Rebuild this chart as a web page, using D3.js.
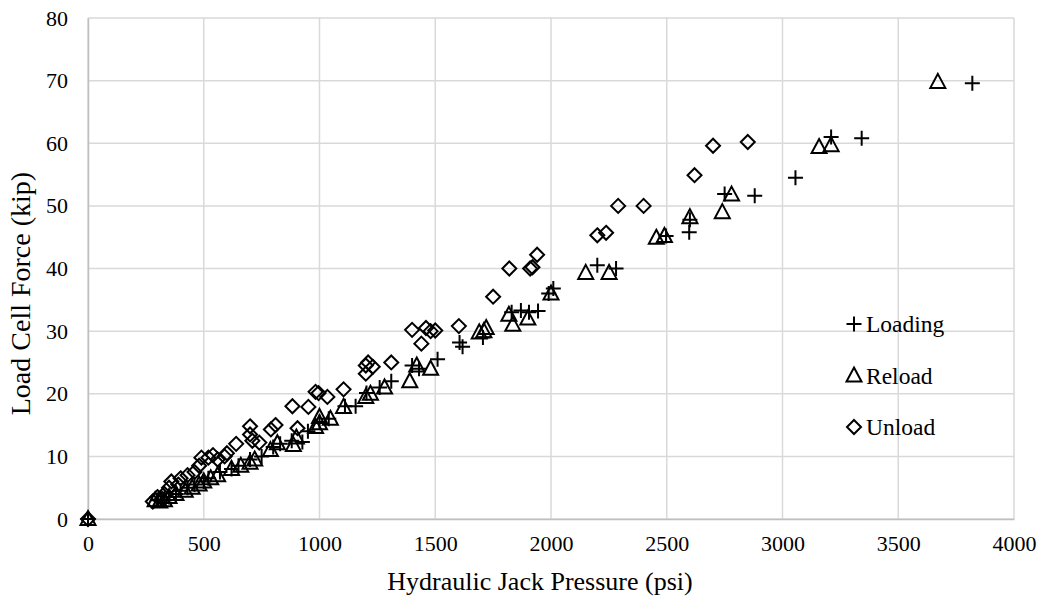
<!DOCTYPE html>
<html>
<head>
<meta charset="utf-8">
<script src="https://cdn.jsdelivr.net/npm/d3@7"></script>
<style>
  html, body { margin: 0; padding: 0; background: #fff; }
  svg text { font-family: "Liberation Serif", "Times New Roman", serif !important; }
</style>
</head>
<body>
<svg id="chart" width="1041" height="601"></svg>
<script>
// Hydraulic jack pressure (psi) vs load cell force (kip)
const xTicks = [0, 500, 1000, 1500, 2000, 2500, 3000, 3500, 4000];
const yTicks = [0, 10, 20, 30, 40, 50, 60, 70, 80];

const loadingX = [0, 300, 330, 350, 380, 400, 430, 460, 500, 520, 570, 620, 650, 700, 750, 800, 830, 880, 926, 950, 1000, 1040, 1110, 1156, 1203, 1260, 1310, 1400, 1430, 1510, 1605, 1618, 1706, 1830, 1870, 1905, 1944, 1990, 2010, 2200, 2281, 2497, 2597, 2600, 2750, 2880, 3056, 3210, 3342, 3820];
const loadingY = [0, 3, 3, 3.5, 4, 4.5, 5, 5.5, 6, 6.5, 7.5, 8, 8.5, 9.5, 10, 11.5, 12, 12.5, 12.3, 14, 15.5, 16, 18, 18, 20.1, 21, 22, 24.5, 24, 25.5, 28.2, 27.5, 29, 33, 33.3, 33, 33.2, 36, 36.8, 40.5, 40, 45.2, 45.8, 47.8, 51.9, 51.6, 54.5, 61, 60.8, 69.6];

const reloadX = [0, 290, 310, 330, 350, 380, 420, 450, 480, 500, 530, 560, 620, 660, 700, 720, 788, 818, 887, 900, 983, 1000, 1000, 1047, 1104, 1200, 1220, 1281, 1390, 1420, 1480, 1690, 1710, 1720, 1818, 1835, 1900, 2000, 2150, 2251, 2455, 2490, 2600, 2740, 2780, 3158, 3210, 3671];
const reloadY = [0, 3, 2.8, 3, 3.5, 4, 4.5, 5, 5.5, 6, 6.5, 7, 8, 8.5, 9, 9.5, 11, 12.1, 11.8, 13, 14.7, 15.3, 16.3, 16, 17.9, 19.5, 20, 21, 22, 24.5, 24, 29.8, 30, 30.5, 32.6, 31, 32, 36, 39.3, 39.3, 44.9, 45.2, 48.2, 49, 51.8, 59.4, 59.7, 69.8];

const unloadX = [0, 280, 300, 320, 330, 350, 360, 390, 400, 430, 460, 480, 490, 520, 540, 560, 590, 600, 640, 700, 700, 710, 740, 790, 810, 883, 905, 952, 983, 996, 1034, 1104, 1200, 1200, 1210, 1230, 1310, 1400, 1440, 1460, 1480, 1500, 1602, 1750, 1820, 1910, 1920, 1940, 2200, 2238, 2290, 2400, 2620, 2700, 2850];
const unloadY = [0, 2.8, 3.5, 3.2, 4, 5, 6, 5.5, 6.5, 7, 7.5, 8.5, 9.8, 9.8, 10.2, 9.5, 10, 10.5, 12, 14.8, 13.5, 12.5, 12.2, 14.3, 15, 18, 14.5, 17.9, 20.3, 20.1, 19.5, 20.7, 24.5, 23.2, 25, 24.3, 25, 30.2, 28, 30.5, 30, 30.1, 30.8, 35.5, 40, 40, 40.2, 42.2, 45.3, 45.7, 50, 50, 54.9, 59.6, 60.2];

const series = [
  { name: "Loading", xs: loadingX, ys: loadingY, shape: "plus" },
  { name: "Reload", xs: reloadX, ys: reloadY, shape: "triangle" },
  { name: "Unload", xs: unloadX, ys: unloadY, shape: "diamond" }
];

const FONT = "Liberation Serif";
const svg = d3.select("#chart").attr("font-family", FONT);
const margin = { left: 88, right: 27, top: 18, bottom: 82 };
const W = 1041, H = 601;

const x = d3.scaleLinear().domain([0, 4000]).range([margin.left, W - margin.right]);
const y = d3.scaleLinear().domain([0, 80]).range([H - margin.bottom, margin.top]);

// gridlines
const grid = svg.append("g");
grid.selectAll("line.v").data(xTicks).join("line")
  .attr("x1", d => x(d)).attr("x2", d => x(d))
  .attr("y1", y(0)).attr("y2", y(80))
  .attr("stroke", "#d9d9d9").attr("stroke-width", 1.5);
grid.selectAll("line.h").data(yTicks).join("line")
  .attr("y1", d => y(d)).attr("y2", d => y(d))
  .attr("x1", x(0)).attr("x2", x(4000))
  .attr("stroke", "#d9d9d9").attr("stroke-width", 1.5);

// axes
const xAxis = svg.append("g").attr("transform", `translate(0,${y(0)})`)
  .call(d3.axisBottom(x).tickValues(xTicks).tickSize(0).tickPadding(16).tickFormat(d3.format("d")));
xAxis.attr("font-family", FONT).attr("font-size", 22);
xAxis.select(".domain").attr("stroke", "#bfbfbf").attr("stroke-width", 1.5);
xAxis.selectAll("text").attr("fill", "#000").style("font-family", FONT).style("font-size", "22px");

const yAxis = svg.append("g").attr("transform", `translate(${x(0)},0)`)
  .call(d3.axisLeft(y).tickValues(yTicks).tickSize(0).tickPadding(20).tickFormat(d3.format("d")));
yAxis.attr("font-family", FONT).attr("font-size", 22);
yAxis.select(".domain").attr("stroke", "#bfbfbf").attr("stroke-width", 1.5);
yAxis.selectAll("text").attr("fill", "#000").style("font-family", FONT).style("font-size", "22px");

// axis titles
svg.append("text").attr("x", 540).attr("y", 590)
  .attr("text-anchor", "middle").attr("font-size", 26)
  .text("Hydraulic Jack Pressure (psi)");
svg.append("text").attr("transform", `translate(30,${y(36)}) rotate(-90)`)
  .attr("text-anchor", "middle").attr("font-size", 28)
  .text("Load Cell Force (kip)");

// marker shapes
function markerPath(shape) {
  if (shape === "plus") return "M-7.5,0H7.5M0,-7.5V7.5";
  if (shape === "triangle") return "M0,-8L7.5,6H-7.5Z";
  return "M0,-7L7,0L0,7L-7,0Z";
}

const pts = svg.append("g");
series.forEach(s => {
  const data = s.xs.map((v, i) => [v, s.ys[i]]);
  pts.append("g").selectAll("path").data(data).join("path")
    .attr("transform", d => `translate(${x(d[0])},${y(d[1])})`)
    .attr("d", markerPath(s.shape))
    .attr("fill", "none").attr("stroke", "#000").attr("stroke-width", 2);
});

// legend
const legend = svg.append("g");
series.forEach((s, i) => {
  const ly = 324 + i * 51.5;
  legend.append("path").attr("transform", `translate(854,${ly})`)
    .attr("d", markerPath(s.shape))
    .attr("fill", "none").attr("stroke", "#000").attr("stroke-width", 2);
  legend.append("text").attr("x", 866).attr("y", ly + 8)
    .attr("font-size", 23.5).text(s.name);
});
</script>
</body>
</html>
